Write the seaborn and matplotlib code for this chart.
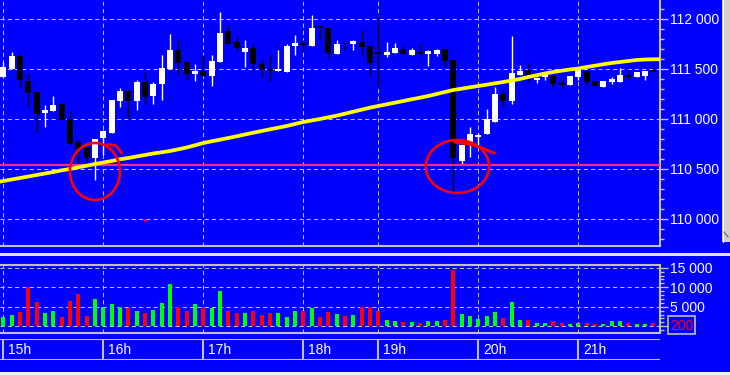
import numpy as np
import pandas as pd
import matplotlib
matplotlib.use("Agg")
import matplotlib.pyplot as plt
import seaborn as sns
from matplotlib.patches import Ellipse, Rectangle
from matplotlib.ticker import MultipleLocator, FixedLocator

plt.rcParams['font.family'] = ['Liberation Sans', 'DejaVu Sans']

# ---------------- data (5-minute candles, index 0 = 15:00) ----------------
opens = [111425, 111505, 111635, 111380, 111270, 111065, 111085, 111155, 111005, 110770,
         110725, 110610, 110815, 110865, 111185, 111285, 111185, 111370, 111235, 111350,
         111505, 111690, 111570, 111450, 111485, 111435, 111575, 111880, 111775, 111675,
         111715, 111550, 111500, 111485, 111475, 111735, 111765, 111735, 111935, 111915,
         111655, 111765, 111750, 111775, 111730, 111665, 111645, 111665, 111705, 111645,
         111675, 111650, 111655, 111705, 111590, 110585, 110755, 110825, 110850, 110975,
         111255, 111185, 111440, 111490, 111390, 111425, 111435, 111365, 111345, 111425,
         111485, 111380, 111325, 111375, 111375, 111445, 111425, 111435, 111495]
highs = [111575, 111675, 111650, 111450, 111270, 111145, 111230, 111155, 111080, 110795,
         110725, 110805, 110890, 111195, 111315, 111285, 111390, 111475, 111375, 111640,
         111855, 111790, 111570, 111555, 111640, 111640, 112075, 111940, 111830, 111790,
         111755, 111605, 111645, 111695, 111750, 111840, 111795, 112040, 111935, 111915,
         111795, 111765, 111795, 111895, 111730, 112030, 111775, 111765, 111730, 111715,
         111765, 111690, 111705, 111705, 111590, 110745, 110925, 110865, 111105, 111325,
         111295, 111830, 111545, 111565, 111420, 111475, 111445, 111395, 111430, 111505,
         111495, 111385, 111385, 111425, 111515, 111505, 111470, 111480, 111555]
lows = [111420, 111505, 111325, 111125, 110865, 110925, 111085, 110995, 110755, 110555,
        110555, 110390, 110640, 110865, 111125, 111005, 111095, 111150, 111155, 111195,
        111505, 111440, 111390, 111385, 111435, 111335, 111575, 111750, 111680, 111525,
        111475, 111415, 111380, 111485, 111475, 111645, 111680, 111735, 111800, 111615,
        111655, 111695, 111695, 111645, 111435, 111335, 111625, 111665, 111650, 111645,
        111655, 111535, 111635, 111525, 110265, 110555, 110625, 110725, 110850, 110975,
        111125, 111150, 111440, 111375, 111360, 111395, 111325, 111315, 111345, 111390,
        111345, 111325, 111325, 111355, 111375, 111405, 111425, 111395, 111475]
closes = [111525, 111635, 111390, 111265, 111055, 111095, 111145, 110995, 110755, 110705,
          110615, 110805, 110885, 111195, 111285, 111185, 111370, 111225, 111355, 111515,
          111695, 111565, 111450, 111485, 111435, 111580, 111865, 111750, 111715, 111715,
          111550, 111490, 111485, 111505, 111735, 111765, 111740, 111915, 111915, 111665,
          111755, 111750, 111785, 111725, 111565, 111655, 111675, 111715, 111650, 111695,
          111655, 111685, 111695, 111585, 110615, 110745, 110855, 110845, 111005, 111255,
          111185, 111465, 111480, 111425, 111410, 111465, 111355, 111340, 111430, 111490,
          111375, 111335, 111385, 111405, 111440, 111425, 111470, 111480, 111475]
volumes = [2300, 2990, 3670, 10070, 6230, 3410, 4010, 2390, 6570, 8270,
           2730, 6990, 4950, 5720, 4950, 4690, 4010, 3410, 4270, 5970,
           10830, 4950, 4010, 5720, 4690, 4690, 8960, 4010, 3410, 3410,
           4010, 2990, 3410, 3410, 2300, 3840, 3840, 4690, 2390, 3670,
           3160, 2560, 2810, 4860, 4860, 3840, 1710, 1280, 1020, 1020,
           850, 1280, 1280, 1620, 14330, 3160, 2560, 1880, 2560, 3580,
           2130, 6140, 1620, 1540, 940, 940, 1280, 850, 680, 850,
           850, 600, 600, 1280, 1280, 940, 680, 680, 940]
ma_idx = list(range(-1, 80))
ma_vals = [110365, 110380, 110395, 110410, 110425, 110440, 110455, 110470, 110487, 110500,
           110517, 110533, 110550, 110565, 110580, 110597, 110610, 110625, 110640, 110655,
           110667, 110680, 110697, 110715, 110737, 110760, 110777, 110793, 110810, 110827,
           110845, 110863, 110880, 110897, 110913, 110930, 110950, 110970, 110985, 111000,
           111017, 111033, 111053, 111073, 111093, 111113, 111130, 111147, 111163, 111180,
           111197, 111213, 111230, 111250, 111270, 111290, 111303, 111317, 111330, 111343,
           111357, 111370, 111385, 111400, 111420, 111437, 111455, 111470, 111483, 111495,
           111505, 111520, 111533, 111547, 111560, 111570, 111580, 111590, 111595, 111597,
           111598]
support_level = 110545
price_ticks = [110000, 110500, 111000, 111500, 112000]
price_tick_labels = ['110 000', '110 500', '111 000', '111 500', '112 000']
vol_ticks = [0, 5000, 10000, 15000]
vol_tick_labels = ['', '5 000', '10 000', '15 000']
hour_idx = [0, 12, 24, 36, 45, 57, 69]
hour_labels = ['15h', '16h', '17h', '18h', '19h', '20h', '21h']
last_volume_label = '200'

# hand-drawn annotation circles (center index, center price, width idx, height price)
circle1 = (11.0, 110475, 6.0, 570)
circle2 = (54.5, 110525, 7.6, 530)

# ---------------- layout helpers ----------------
W, H = 730, 375
BLUE = '#0000FF'
GRID = '#C0C0C0'
X0, XSTEP = 3.3, 8.333


def rect(x0, y0, x1, y1):
    return [x0 / W, 1 - y1 / H, (x1 - x0) / W, (y1 - y0) / H]


xlim = ((0 - X0) / XSTEP, (660 - X0) / XSTEP)

fig = plt.figure(figsize=(W / 100, H / 100), dpi=100, facecolor=BLUE)

# ---------------- main price panel ----------------
ax = fig.add_axes(rect(0, 0, 660, 246))
ax.set_facecolor(BLUE)
idx = np.arange(len(opens))
o = np.array(opens); c = np.array(closes); hi = np.array(highs); lo = np.array(lows)
up = c >= o
cols = np.where(up, 'white', 'black')
ax.vlines(idx, lo, hi, colors=cols, lw=1.0, zorder=3)
body_h = np.maximum(np.abs(c - o), 12)
ax.bar(idx, body_h, bottom=np.minimum(o, c), width=0.72, color=cols, lw=0, zorder=4)
ax.axhline(support_level, color='#FF2A7F', lw=1.6, zorder=5)
sns.lineplot(x=ma_idx, y=ma_vals, ax=ax, color='#FFFF00', lw=2.7, zorder=6)

for (cx, cy, cw, ch) in (circle1, circle2):
    ax.add_patch(Ellipse((cx, cy), cw, ch, fill=False, edgecolor='#FF0000', lw=1.9, zorder=8))
ax.plot([12.6, 13.5, 14.2], [110745, 110735, 110660], color='#FF0000', lw=1.9, zorder=8)
ax.plot([54.2, 56.5, 58.9], [110770, 110740, 110660], color='#FF0000', lw=2.2, zorder=8)
ax.plot([17.0], [109990], marker='s', ms=1.2, color='#FF0000', zorder=8)

ax.set_xlim(*xlim)
ax.set_ylim(109730, 112190)
ax.set_xlabel(''); ax.set_ylabel('')
ax.yaxis.tick_right()
ax.set_yticks(price_ticks)
ax.set_yticklabels(price_tick_labels)
ax.yaxis.set_minor_locator(MultipleLocator(100))
ax.set_xticks(hour_idx)
ax.set_xticklabels([])
ax.tick_params(axis='x', length=0)
ax.tick_params(axis='y', which='major', length=5.8, width=1, color=GRID,
               labelcolor='white', labelsize=10, pad=1.5, direction='out')
ax.tick_params(axis='y', which='minor', length=2.9, width=1, color=GRID, direction='out')
ax.grid(True, which='major', color=GRID, ls=(0, (4, 3)), lw=0.75)
for s in ('top', 'left'):
    ax.spines[s].set_visible(False)
for s in ('right', 'bottom'):
    ax.spines[s].set_color(GRID)
    ax.spines[s].set_linewidth(1.5)

# ---------------- volume panel ----------------
axv = fig.add_axes(rect(0, 265, 660, 333))
axv.set_facecolor(BLUE)
vdf = pd.DataFrame({'idx': idx, 'vol': volumes,
                    'dir': np.where(up, 'up', 'down')})
sns.barplot(data=vdf, x='idx', y='vol', hue='dir', native_scale=True, dodge=False,
            palette={'up': '#00FF00', 'down': '#FF0000'}, width=0.5, saturation=1,
            errorbar=None, legend=False, linewidth=0, ax=axv, zorder=3)
axv.set_xlim(*xlim)
axv.set_ylim(-1715, 15690)
axv.set_xlabel(''); axv.set_ylabel('')
axv.yaxis.tick_right()
axv.yaxis.set_major_locator(FixedLocator(vol_ticks))
axv.set_yticklabels(vol_tick_labels)
axv.yaxis.set_minor_locator(MultipleLocator(1000))
axv.set_xticks(hour_idx)
axv.set_xticklabels([])
axv.tick_params(axis='x', length=0)
axv.tick_params(axis='y', which='major', length=5.8, width=1, color=GRID,
                labelcolor='white', labelsize=10, pad=1.5, direction='out')
axv.tick_params(axis='y', which='minor', length=2.9, width=1, color=GRID, direction='out')
axv.grid(True, which='major', color=GRID, ls=(0, (4, 3)), lw=0.75)
axv.spines['left'].set_visible(False)
for s in ('right', 'bottom', 'top'):
    axv.spines[s].set_color(GRID)
    axv.spines[s].set_linewidth(1.5)

# ---------------- time row ----------------
axt = fig.add_axes(rect(0, 339, 660, 360))
axt.set_xlim(*xlim)
axt.set_ylim(0, 1)
axt.axis('off')
axt.axhline(0.02, color=GRID, lw=1.5)
axt.axhline(0.98, color=GRID, lw=1.5)
axt.vlines(hour_idx, 0, 1, color=GRID, lw=1.5)
for h, lab in zip(hour_idx, hour_labels):
    axt.text(h + 0.6, 0.5, lab, color='white', fontsize=10, ha='left', va='center')

# ---------------- window decorations ----------------
ov = fig.add_axes([0, 0, 1, 1], zorder=20)
ov.set_xlim(0, W); ov.set_ylim(H, 0)
ov.axis('off')
ov.patch.set_visible(False)
ov.add_patch(Rectangle((0, 252.5), W, 3, color='#E4E4E4', lw=0))
ov.add_patch(Rectangle((0, 371.5), W, 4, color='#F0F0F0', lw=0))
ov.add_patch(Rectangle((722, 0), 8, 242, color='#D4D0C8', lw=0))
ov.plot([722.5, 722.5], [0, 242], color='white', lw=0.8)
ov.plot([724, 728], [232, 237], color='#606060', lw=0.8)
ov.add_patch(Rectangle((668, 316), 27, 18, fill=False, edgecolor=GRID, lw=1.2))
ov.text(681.5, 325.5, last_volume_label, color='#FF0000', fontsize=10, ha='center', va='center')

fig.savefig('out.png', dpi=100, facecolor=BLUE)
